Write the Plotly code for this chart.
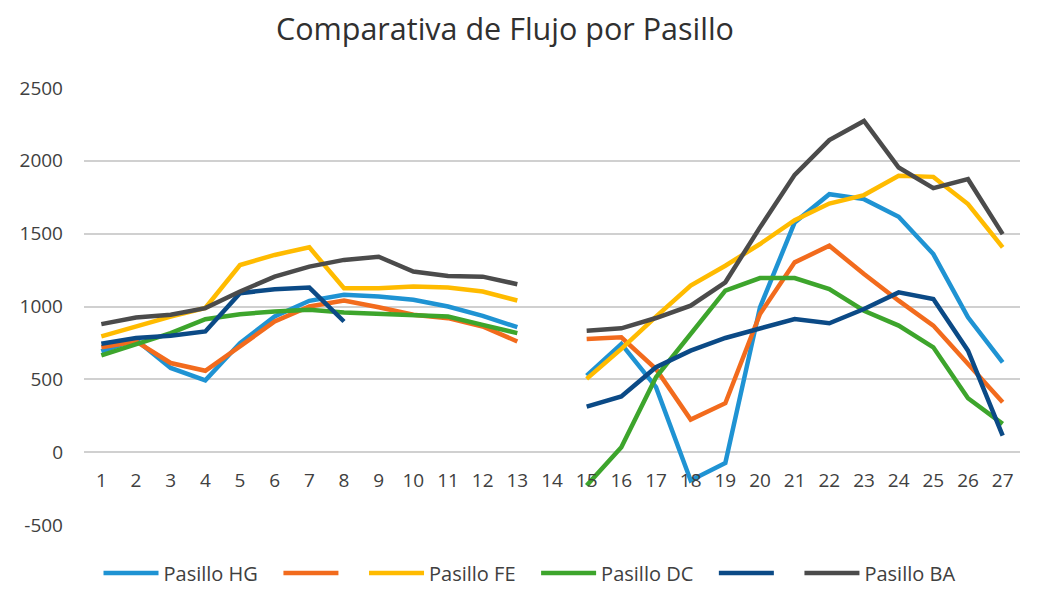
import plotly.graph_objects as go

dias = list(range(1, 28))

# values per day (None = no data)
hg = [692, 772, 578, 493, 749, 932, 1039, 1080, 1068, 1046, 1000, 936, 858, None,
      526, 743, 446, -194, -75, 994, 1577, 1771, 1737, 1616, 1360, 926, 617]
gf = [720, 760, 612, 559, 726, 897, 1000, 1041, 995, 943, 920, 863, 760, None,
      777, 789, 571, 224, 336, 949, 1303, 1417, 1223, 1040, 869, 606, 343]
fe = [795, 863, 931, 990, 1285, 1354, 1406, 1125, 1125, 1137, 1130, 1103, 1041, None,
      503, 709, 930, 1143, 1280, 1429, 1593, 1707, 1765, 1897, 1890, 1703, 1406]
dc = [664, 737, 817, 913, 947, 966, 977, 959, 950, 943, 931, 874, 817, None,
      -229, 34, 514, 811, 1109, 1195, 1195, 1120, 971, 869, 720, 370, 194]
ed = [744, 783, 799, 829, 1091, 1119, 1130, 897, None, None, None, None, None, None,
      313, 382, 583, 697, 784, 853, 914, 885, 983, 1097, 1051, 697, 114]
ba = [879, 925, 943, 989, 1103, 1205, 1274, 1320, 1342, 1240, 1210, 1205, 1153, None,
      834, 850, 921, 1006, 1166, 1543, 1904, 2142, 2274, 1954, 1813, 1874, 1497]

y_ticks = [-500, 0, 500, 1000, 1500, 2000, 2500]
y_labels = ["-500", "0", "500", "1000", "1500", "2000", "2500"]

nb = "\u00a0"
series = [
    ("Pasillo HG" + nb * 3, hg, "#1f93d3"),
    (nb * 3, gf, "#f26b1d"),
    ("Pasillo FE" + nb * 3, fe, "#ffbb00"),
    ("Pasillo DC" + nb * 3, dc, "#3da52c"),
    (nb * 3, ed, "#0b4a86"),
    ("Pasillo BA", ba, "#4b4b4b"),
]

fig = go.Figure()
for nombre, vals, color in series:
    fig.add_trace(go.Scatter(x=dias, y=vals, name=nombre, mode="lines",
                             line=dict(color=color, width=4.5),
                             connectgaps=False))

fig.update_layout(
    width=1054, height=604,
    paper_bgcolor="white", plot_bgcolor="white",
    margin=dict(l=72, r=42, t=80, b=87),
    font=dict(family="Open Sans", color="#404040", size=15),
    title=dict(text="Comparativa de Flujo por Pasillo", x=0.4715, xanchor="center",
               y=0.965, yanchor="middle", font=dict(size=30.5, color="#303030")),
    showlegend=True,
    legend=dict(orientation="h", x=0.0155, xanchor="left", y=-0.065, yanchor="top",
                font=dict(size=20, color="#404040"), itemwidth=55),
)
fig.update_xaxes(range=[0.5, 27.5], tickmode="linear", tick0=1, dtick=1,
                 showgrid=False, zeroline=False, showline=False,
                 anchor="free", position=1/6, ticks="", ticklabelstandoff=15,
                 tickfont=dict(size=19, color="#404040"))
fig.update_yaxes(range=[-500, 2500], tickmode="array", tickvals=y_ticks,
                 ticktext=y_labels,
                 gridcolor="#d0d0d0", gridwidth=1.5, zeroline=False,
                 showline=False, ticks="", ticklabelstandoff=20,
                 tickfont=dict(size=19, color="#404040"))

fig.write_html("out.html")
